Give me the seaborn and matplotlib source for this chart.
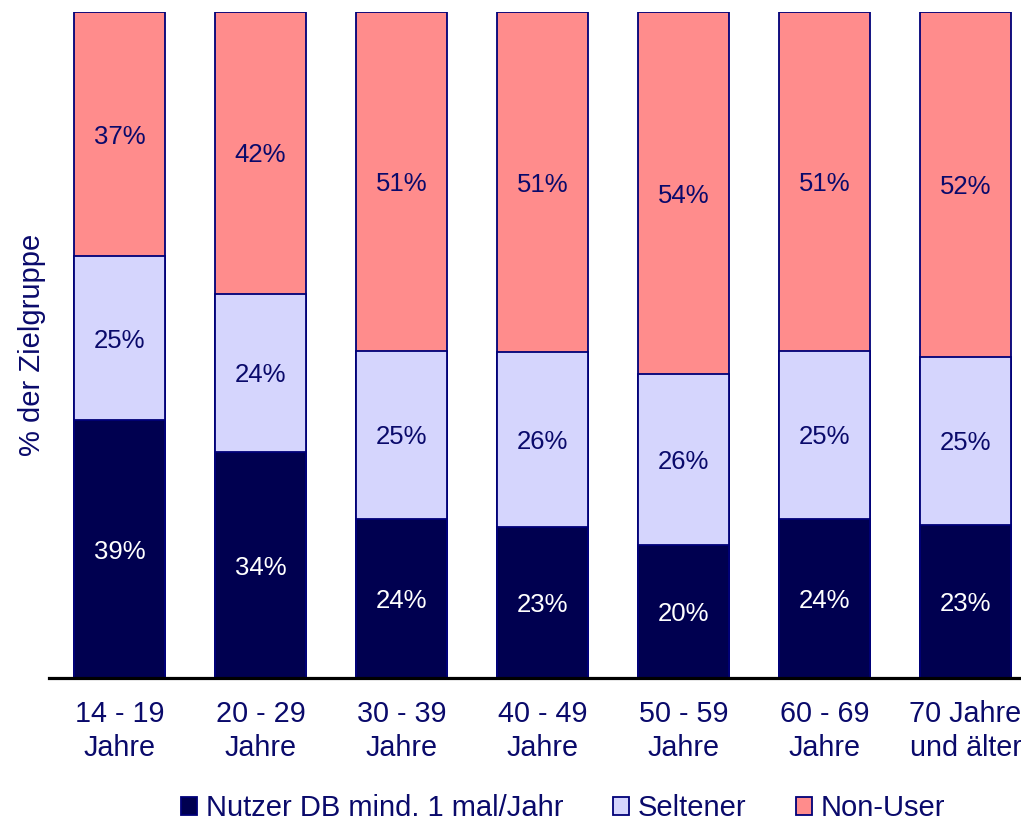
import numpy as np
import pandas as pd
import matplotlib
matplotlib.use('Agg')
import matplotlib.pyplot as plt
import matplotlib.patches as mpatches
import seaborn as sns

# Daten (Anteile in %, je Altersgruppe auf 100 normiert)
altersgruppen = ['14 - 19\nJahre', '20 - 29\nJahre', '30 - 39\nJahre', '40 - 49\nJahre',
                 '50 - 59\nJahre', '60 - 69\nJahre', '70 Jahre\nund älter']
nutzer = [38.7, 33.9, 23.9, 22.7, 19.9, 23.9, 23.0]
seltener = [24.6, 23.8, 25.2, 26.2, 25.7, 25.2, 25.2]
non_user = [36.7, 42.3, 50.9, 51.1, 54.4, 50.9, 51.8]
serien = ['Nutzer DB mind. 1 mal/Jahr', 'Seltener', 'Non-User']

farben = {'Nutzer DB mind. 1 mal/Jahr': '#000050',
          'Seltener': '#D5D5FD',
          'Non-User': '#FF8C8C'}
navy = '#0A0A6B'

df = pd.DataFrame({'Altersgruppe': altersgruppen,
                   'Nutzer DB mind. 1 mal/Jahr': nutzer,
                   'Seltener': seltener,
                   'Non-User': non_user})
# kumulierte Summen für gestapelte Balken
df['cum1'] = df['Nutzer DB mind. 1 mal/Jahr']
df['cum2'] = df['cum1'] + df['Seltener']
df['cum3'] = df['cum2'] + df['Non-User']

sns.set_style('white')
plt.rcParams['font.family'] = ['Liberation Sans', 'DejaVu Sans']

fig = plt.figure(figsize=(10.21, 8.24), dpi=100)
ax = fig.add_axes([49 / 1021, 146 / 824, 972 / 1021, 666 / 824])

breite = 0.645
# von hinten nach vorne zeichnen
for spalte, name in [('cum3', 'Non-User'), ('cum2', 'Seltener'), ('cum1', 'Nutzer DB mind. 1 mal/Jahr')]:
    sns.barplot(data=df, x='Altersgruppe', y=spalte, color=farben[name], width=breite,
                edgecolor='#000078', linewidth=1.3, saturation=1, ax=ax)

# Prozentwerte in die Segmente schreiben
for i in range(len(df)):
    unten = 0
    for name in serien:
        wert = df.loc[i, name]
        farbe = 'white' if name == serien[0] else navy
        ax.text(i, unten + wert / 2, f'{wert:.0f}%', ha='center', va='center_baseline',
                fontsize=18.5, color=farbe)
        unten += wert

ax.set_ylim(0, 100)
ax.set_xlim(-0.5, (1021 - 119.5) / 141)
ax.set_yticks([])
ax.set_xlabel('')
ax.set_ylabel('% der Zielgruppe', fontsize=21, color=navy, labelpad=2)
ax.tick_params(axis='x', length=0, pad=16, labelsize=20.7, labelcolor=navy)
for lbl in ax.get_xticklabels():
    lbl.set_linespacing(1.27)
for s in ['top', 'right', 'left']:
    ax.spines[s].set_visible(False)
ax.spines['bottom'].set_color('black')
ax.spines['bottom'].set_linewidth(2.3)

handles = [mpatches.Patch(facecolor=farben[n], edgecolor='#000078', linewidth=1.3, label=n)
           for n in serien]
fig.legend(handles=handles, loc='lower center', bbox_to_anchor=(563 / 1021, -0.03), ncol=3,
           frameon=False, fontsize=21, handlelength=0.55, handleheight=0.55,
           handletextpad=0.3, columnspacing=1.7, labelcolor=navy)

plt.savefig('out.png', dpi=100)
